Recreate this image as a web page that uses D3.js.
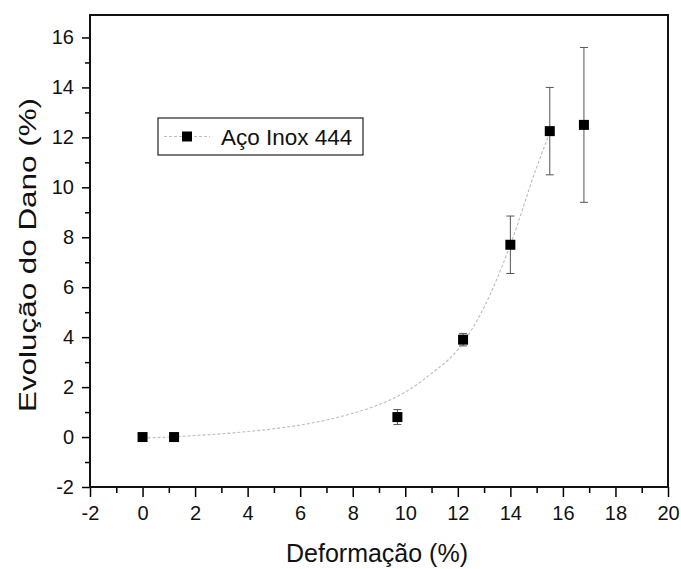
<!DOCTYPE html>
<html lang="pt">
<head>
<meta charset="UTF-8">
<title>Evolução do Dano</title>
<script src="https://d3js.org/d3.v7.min.js"></script>
<style>
    html, body { margin: 0; padding: 0; background: #fff; }
    text { font-family: "Liberation Sans", Arial, sans-serif; fill: #111; }
    .fit { fill: none; stroke: #bdbdbd; stroke-width: 1.1; stroke-dasharray: 3,2; }
</style>
</head>
<body>
<div id="chart"></div>
<script>

    // measured points
    var deformacao = [0, 1.2, 9.7, 12.2, 14.0, 15.5, 16.8];
    var dano       = [0, 0, 0.8, 3.9, 7.7, 12.25, 12.5];
    var erro       = [0, 0, 0.3, 0.25, 1.15, 1.75, 3.1];

    // fitted curve
    var fitX = [0, 1, 2, 3, 4, 5, 6, 7, 8, 9, 10, 11, 12, 13, 14, 15, 15.5];
    var fitY = [-0.04, 0.0, 0.06, 0.13, 0.22, 0.33, 0.48, 0.68, 0.95, 1.3, 1.8, 2.55, 3.5, 5.2, 7.7, 10.8, 12.2];

    var xTicks = [-2, 0, 2, 4, 6, 8, 10, 12, 14, 16, 18, 20];
    var yTicks = [-2, 0, 2, 4, 6, 8, 10, 12, 14, 16];
    var legendLabel = "Aço Inox 444";

    var W = 681, H = 569;
    var margin = {top: 15, right: 13, bottom: 82, left: 90};
    var width = W - margin.left - margin.right,
        height = H - margin.top - margin.bottom;

    var x = d3.scaleLinear().domain([-2, 20]).range([0, width]);
    var y = d3.scaleLinear().domain([-2, 16.9]).range([height, 0]);

    var fmt = function(d){ return String(d); };   // plain hyphen for negatives

    var svg = d3.select("#chart").append("svg")
        .attr("width", W)
        .attr("height", H)
        .append("g")
        .attr("transform", "translate(" + margin.left + "," + margin.top + ")");

    // minor ticks
    svg.append("g")
        .attr("transform", "translate(0," + height + ")")
        .call(d3.axisBottom(x).tickValues(d3.range(-1, 20, 2)).tickSize(6).tickFormat(""))
        .call(function(g){ g.select(".domain").remove(); g.selectAll("line").attr("stroke-width", 1.5); });
    svg.append("g")
        .call(d3.axisLeft(y).tickValues(d3.range(-1, 17, 2)).tickSize(5).tickFormat(""))
        .call(function(g){ g.select(".domain").remove(); g.selectAll("line").attr("stroke-width", 1.5); });

    // major ticks
    var xAxis = svg.append("g")
        .attr("transform", "translate(0," + height + ")")
        .call(d3.axisBottom(x).tickValues(xTicks).tickSize(10).tickPadding(9).tickFormat(fmt));
    var yAxis = svg.append("g")
        .call(d3.axisLeft(y).tickValues(yTicks).tickSize(8).tickPadding(8).tickFormat(fmt));

    [xAxis, yAxis].forEach(function(a){
        a.select(".domain").remove();
        a.selectAll("line").attr("stroke-width", 1.5);
        a.selectAll("text").style("font-size", "20px").style("font-family", "Liberation Sans, Arial, sans-serif");
    });

    // frame
    svg.append("rect")
        .attr("width", width)
        .attr("height", height)
        .attr("fill", "none")
        .attr("stroke", "#111")
        .attr("stroke-width", 2);

    // fitted curve
    var fitLine = d3.line()
        .x(function(d, i){ return x(fitX[i]); })
        .y(function(d){ return y(d); })
        .curve(d3.curveMonotoneX);
    svg.append("path").attr("class", "fit").attr("d", fitLine(fitY));

    // error bars
    deformacao.forEach(function(dx, i){
        if (erro[i] <= 0) return;
        var g = svg.append("g"), cx = x(dx);
        var y1 = y(dano[i] + erro[i]), y2 = y(dano[i] - erro[i]);
        g.append("line").attr("x1", cx).attr("x2", cx).attr("y1", y1).attr("y2", y2)
            .attr("stroke", "#555").attr("stroke-width", 1);
        [y1, y2].forEach(function(yy){
            g.append("line").attr("x1", cx - 4).attr("x2", cx + 4).attr("y1", yy).attr("y2", yy)
                .attr("stroke", "#555").attr("stroke-width", 1);
        });
    });

    // markers
    var s = 10;
    svg.selectAll(".pt").data(dano).enter().append("rect")
        .attr("class", "pt")
        .attr("x", function(d, i){ return x(deformacao[i]) - s / 2; })
        .attr("y", function(d){ return y(d) - s / 2; })
        .attr("width", s)
        .attr("height", s)
        .attr("fill", "#000");

    // legend
    var lg = svg.append("g").attr("transform", "translate(" + (158 - margin.left) + "," + (118 - margin.top) + ")");
    lg.append("rect").attr("width", 205).attr("height", 37)
        .attr("fill", "#fff").attr("stroke", "#222").attr("stroke-width", 1.2);
    lg.append("line").attr("x1", 6).attr("x2", 52).attr("y1", 18.5).attr("y2", 18.5)
        .attr("class", "fit");
    lg.append("rect").attr("x", 29 - s / 2).attr("y", 18.5 - s / 2).attr("width", s).attr("height", s).attr("fill", "#000");
    lg.append("text").attr("x", 63).attr("y", 26.5).style("font-size", "22.5px").text(legendLabel);

    // axis titles
    svg.append("text")
        .attr("x", width / 2 - 2)
        .attr("y", height + 75)
        .attr("text-anchor", "middle")
        .style("font-size", "25px")
        .text("Deformação (%)");

    svg.append("text")
        .attr("transform", "translate(" + (-54) + "," + (240) + ") rotate(-90)")
        .attr("text-anchor", "middle")
        .attr("textLength", 314)
        .attr("lengthAdjust", "spacingAndGlyphs")
        .style("font-size", "24px")
        .text("Evolução do Dano (%)");

</script>
</body>
</html>
